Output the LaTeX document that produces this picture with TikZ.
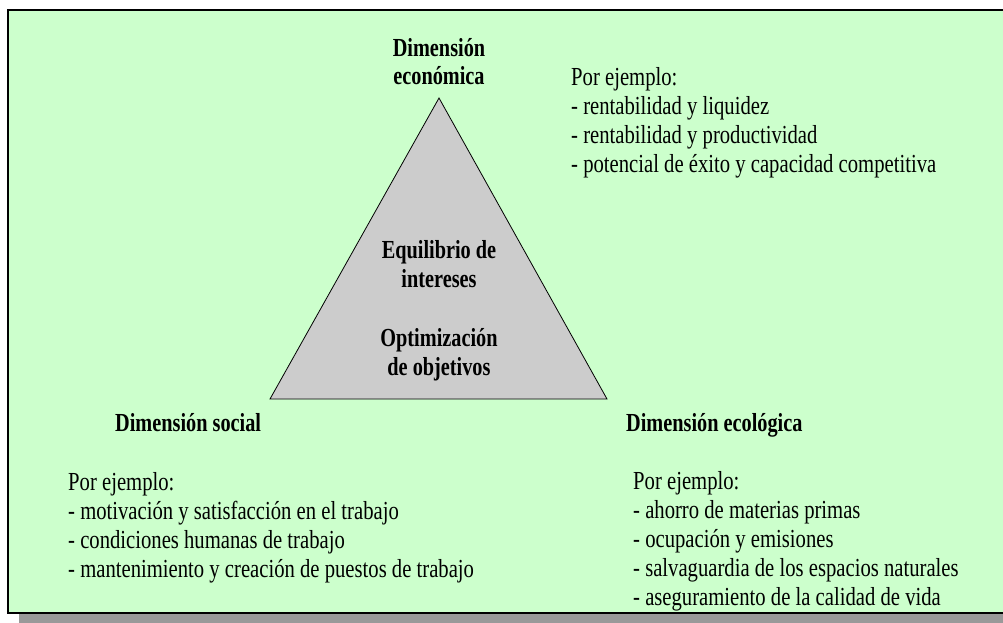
\documentclass[tikz,border=0pt]{standalone}
\usepackage{fontspec}
\newfontfamily\dfont[FakeStretch=0.795]{Liberation Serif}
\newfontfamily\bfont[FakeStretch=0.78]{Liberation Serif Bold}
\begin{document}
\begin{tikzpicture}[x=1pt,y=-1pt,
  txt/.style={inner sep=0pt, font=\dfont\fontsize{26}{28.8}\selectfont, align=left, anchor=base west},
  btxt/.style={inner sep=0pt, font=\bfont\fontsize{26}{28.8}\selectfont, align=center, anchor=base},
  tri/.style={fill=black!20, draw=black, line width=0.8pt, line join=miter}]
\useasboundingbox (0,0) rectangle (1003,623);
\clip (0,0) rectangle (1003,623);
\fill[black!40] (19,613) rectangle (1010,623);
\draw[fill={rgb,255:red,204;green,255;blue,204}, line width=1.6pt] (8,10) rectangle (1012,613);
\coordinate (A) at (439,98);
\coordinate (B) at (270,399);
\coordinate (C) at (607,399);
\draw[tri] (A) -- (B) -- (C) -- cycle;
\node[btxt] (eco) at (439,85) {Dimensión\\económica};
\node[btxt] (eq) at (439,287) {Equilibrio de\\intereses};
\node[btxt] (opt) at (439,375) {Optimización\\de objetivos};
\node[btxt, anchor=base west] (soc) at (115,431) {Dimensión social};
\node[btxt, anchor=base west] (ecol) at (626,431) {Dimensión ecológica};
\node[txt] (l1) at (571,172) {Por ejemplo:\\- rentabilidad y liquidez\\- rentabilidad y productividad\\- potencial de éxito y capacidad competitiva};
\node[txt] (l2) at (68,577) {Por ejemplo:\\- motivación y satisfacción en el trabajo\\- condiciones humanas de trabajo\\- mantenimiento y creación de puestos de trabajo};
\node[txt] (l3) at (633,605) {Por ejemplo:\\- ahorro de materias primas\\- ocupación y emisiones\\- salvaguardia de los espacios naturales\\- aseguramiento de la calidad de vida};
\end{tikzpicture}
\end{document}
